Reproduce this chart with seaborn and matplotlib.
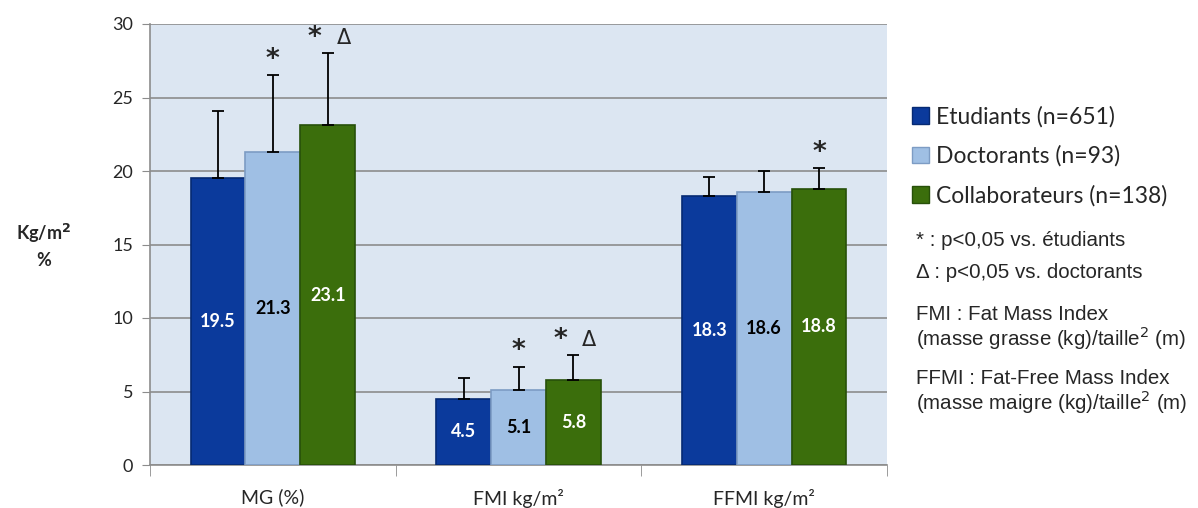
import pandas as pd
import matplotlib.pyplot as plt
import seaborn as sns
from matplotlib.patches import Patch

# data
categories = ['MG (%)', 'FMI kg/m²', 'FFMI kg/m²']
groups = ['Etudiants (n=651)', 'Doctorants (n=93)', 'Collaborateurs (n=138)']
etudiants = [19.5, 4.5, 18.3]
doctorants = [21.3, 5.1, 18.6]
collaborateurs = [23.1, 5.8, 18.8]
err_etudiants = [4.6, 1.4, 1.3]
err_doctorants = [5.2, 1.6, 1.4]
err_collaborateurs = [4.9, 1.7, 1.4]
sig_etudiants = ['', '', '']
sig_doctorants = ['*', '*', '']
sig_collaborateurs = ['* Δ', '* Δ', '*']

colors = ['#0b3a9c', '#9fbfe4', '#3b6e0c']
edges = ['#062a73', '#7d9cc4', '#27500a']
label_colors = ['white', 'black', 'white']

df = pd.DataFrame({
    'cat': categories * 3,
    'group': [g for g in groups for _ in categories],
    'value': etudiants + doctorants + collaborateurs,
})
errs = [err_etudiants, err_doctorants, err_collaborateurs]
sigs = [sig_etudiants, sig_doctorants, sig_collaborateurs]

sns.set_style('white')
plt.rcParams['font.family'] = ['Lato', 'DejaVu Sans']

fig = plt.figure(figsize=(11.98, 5.08), dpi=100)
ax = fig.add_axes([150 / 1198, 43 / 508, 737 / 1198, 441 / 508])
ax.set_facecolor('#dce6f2')

sns.barplot(data=df, x='cat', y='value', hue='group', palette=colors,
            width=0.67, errorbar=None, ax=ax, legend=False, saturation=1)

bar_conts = list(ax.containers)
for i, cont in enumerate(bar_conts):
    for j, bar in enumerate(cont.patches):
        bar.set_edgecolor(edges[i])
        bar.set_linewidth(1.2)
        bar.set_zorder(3)
        xc = bar.get_x() + bar.get_width() / 2
        h = bar.get_height()
        top = h + errs[i][j]
        ax.errorbar(xc, h, yerr=[[0], [errs[i][j]]], fmt='none', ecolor='black',
                    elinewidth=1.3, capsize=4.5, capthick=1.3, zorder=4)
        ax.text(xc, h / 2, f'{h:.1f}', ha='center', va='center', fontsize=13,
                fontweight='bold', color=label_colors[i], zorder=5)
        marks = sigs[i][j].split()
        if not marks:
            continue
        shifts = [0] if len(marks) == 1 else [-9.5, 11.5]
        for m, dx in zip(marks, shifts):
            star = m == '*'
            ax.annotate(m, (xc, top + 0.15), xytext=(dx, 0 if star else 2),
                        textcoords='offset points', ha='center', va='bottom',
                        fontsize=19 if star else 15,
                        fontweight='bold' if star else 'normal',
                        family=['DejaVu Sans'], zorder=5)

ax.set_ylim(0, 30)
ax.set_xlim(-0.5, 2.5)
ax.set_yticks(range(0, 31, 5))
ax.yaxis.grid(True, color='#8c8c8c', linewidth=1.2, zorder=0)
ax.set_axisbelow(True)
ax.set_xlabel('')
ax.set_ylabel('')
for s in ['top', 'right']:
    ax.spines[s].set_visible(False)
for s in ['left', 'bottom']:
    ax.spines[s].set_color('#8c8c8c')
    ax.spines[s].set_linewidth(1.2)
ax.tick_params(axis='y', left=True, length=6, color='#8c8c8c', labelsize=13, pad=6)
ax.set_xticks([-0.5, 0.5, 1.5, 2.5], minor=True)
ax.tick_params(axis='x', which='major', length=0, labelsize=14, pad=17)
ax.tick_params(axis='x', which='minor', bottom=True, length=8, color='#8c8c8c')

fig.text(44 / 1198, 1 - 245 / 508, 'Kg/m$^\\mathbf{2}$\n%', ha='center', va='center',
         fontsize=13, fontweight='bold', linespacing=1.5)

handles = [Patch(facecolor=c, edgecolor=e) for c, e in zip(colors, edges)]
fig.legend(handles, groups, loc='upper left', bbox_to_anchor=(912 / 1198, 1 - 106 / 508),
           frameon=False, fontsize=16.5, handlelength=0.75, handleheight=0.75,
           handletextpad=0.3, labelspacing=0.78, borderaxespad=0, borderpad=0)

notes = [
    (240, '* : p<0,05 vs. étudiants'),
    (273, 'Δ : p<0,05 vs. doctorants'),
    (314, 'FMI : Fat Mass Index'),
    (338, '(masse grasse (kg)/taille$^2$ (m)'),
    (378, 'FFMI : Fat-Free Mass Index'),
    (402, '(masse maigre (kg)/taille$^2$ (m)'),
]
for y, t in notes:
    fig.text(916 / 1198, 1 - y / 508, t, ha='left', va='center', fontsize=14.8,
             family=['Liberation Sans', 'DejaVu Sans'])

fig.savefig('out.png', dpi=100)
